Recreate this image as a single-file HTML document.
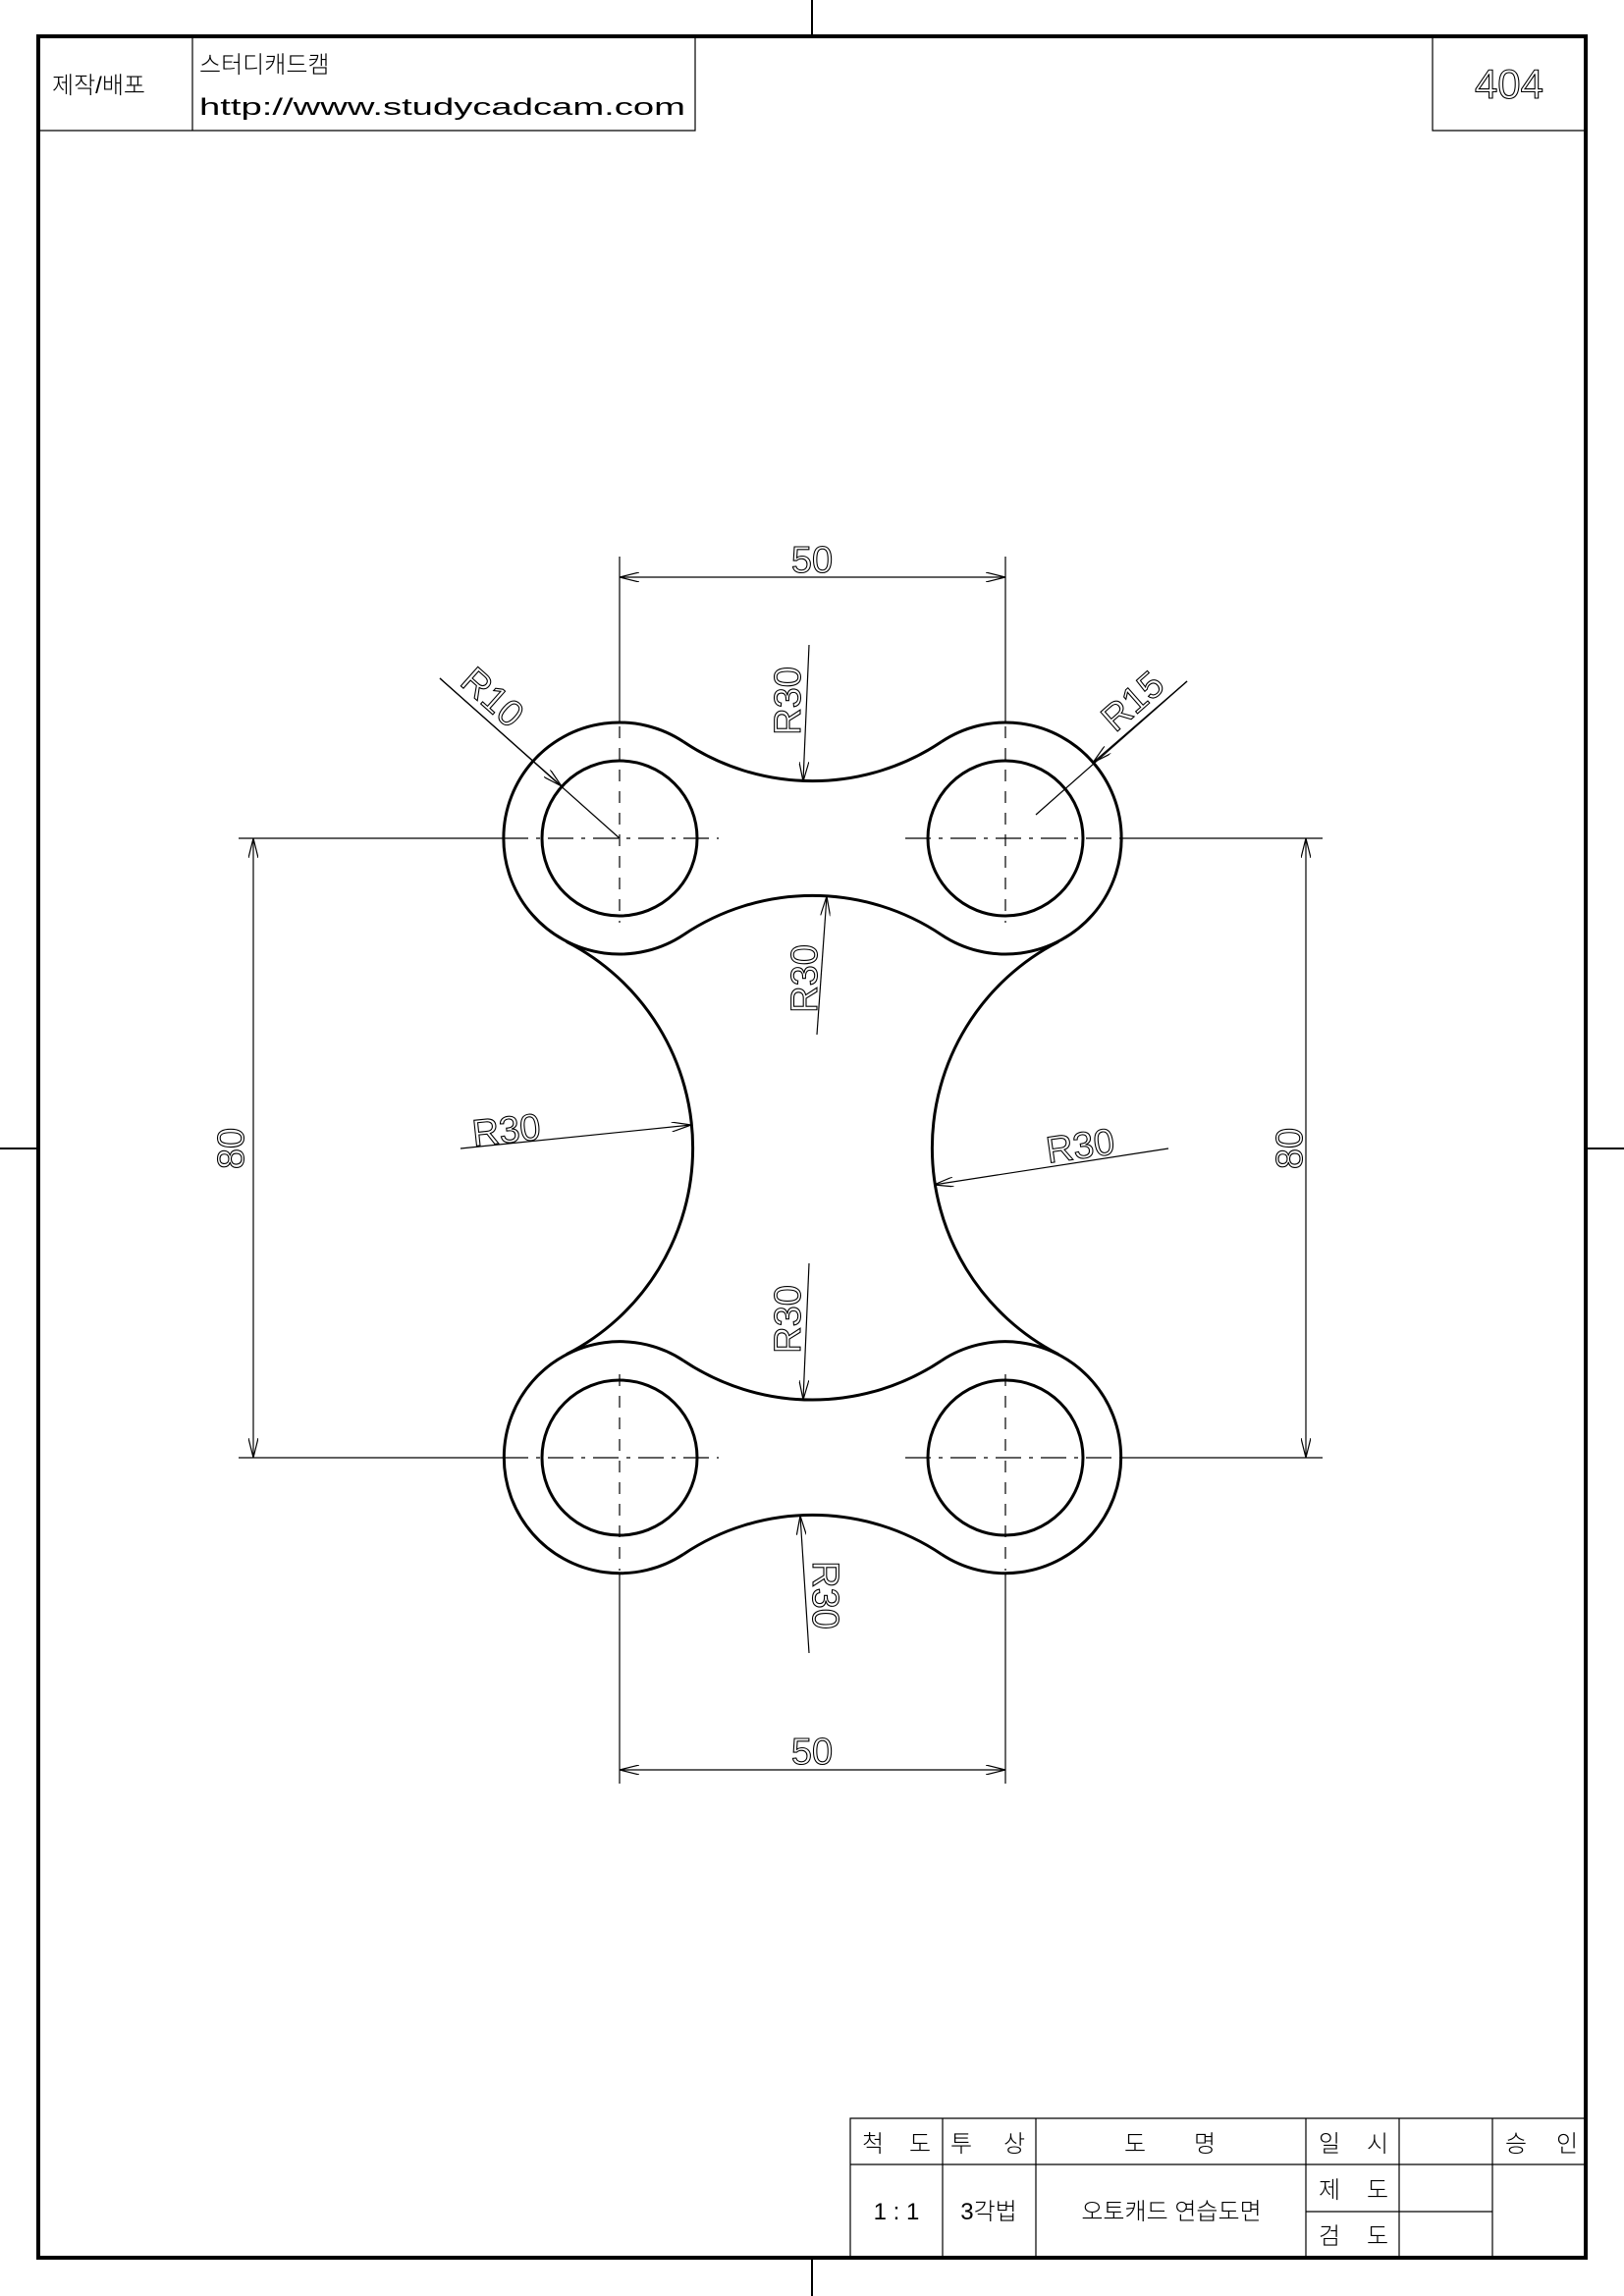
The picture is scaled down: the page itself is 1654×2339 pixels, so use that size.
<!DOCTYPE html>
<html><head><meta charset="utf-8"><style>
html,body{margin:0;padding:0;background:#fff}
svg{display:block}
text{font-family:"Liberation Sans","Noto Sans CJK KR",sans-serif;}
.o{fill:none;stroke:#000;stroke-width:3}
.t{fill:none;stroke:#000;stroke-width:1.2}
.c{fill:none;stroke:#000;stroke-width:1.2;stroke-dasharray:26 8 4 8}
.d{fill:none;stroke:#000;stroke-width:1.2;stroke-dasharray:12 10}
.lbl{font-size:38px;fill:none;stroke:#000;stroke-width:1.1}
.k{font-size:24px;fill:#000;font-weight:300}
</style></head><body>
<svg width="1654" height="2339" viewBox="0 0 1654 2339" xmlns="http://www.w3.org/2000/svg">
<defs>
<marker id="a" viewBox="0 0 20 10" refX="20" refY="5" markerWidth="20" markerHeight="10" markerUnits="userSpaceOnUse" orient="auto-start-reverse">
<path d="M0 0 L20 5 L0 10" fill="none" stroke="#000" stroke-width="1.2"/>
</marker>
</defs>
<rect x="39" y="37" width="1576" height="2263" fill="none" stroke="#000" stroke-width="4"/>
<line x1="827" y1="0" x2="827" y2="37" stroke="#000" stroke-width="2"/>
<line x1="827" y1="2300" x2="827" y2="2339" stroke="#000" stroke-width="2"/>
<line x1="0" y1="1170" x2="39" y2="1170" stroke="#000" stroke-width="2"/>
<line x1="1615" y1="1170" x2="1654" y2="1170" stroke="#000" stroke-width="2"/>
<path class="t" d="M39 133 H708 V37 M196 37 V133"/>
<text class="k" x="53" y="95" font-size="26">제작/배포</text>
<text class="k" x="203" y="74" font-size="28">스터디캐드캠</text>
<text class="k" x="203" y="117" font-size="30" textLength="495" lengthAdjust="spacingAndGlyphs">http://www.studycadcam.com</text>
<path class="t" d="M1459 37 V133 H1615"/>
<text x="1537" y="100" font-size="42" text-anchor="middle" fill="none" stroke="#000" stroke-width="1.1" font-family="Liberation Sans,sans-serif">404</text>

<path class="o" d="M696.3 755.8 A118 118 0 1 0 696.3 952.2"/>
<path class="o" d="M958.7 755.8 A118 118 0 1 1 958.7 952.2"/>
<path class="o" d="M696.3 1386.2 A118 118 0 1 0 696.3 1583.2"/>
<path class="o" d="M958.7 1386.2 A118 118 0 1 1 958.7 1583.2"/>
<path class="o" d="M696.3 755.8 A236 236 0 0 0 958.7 755.8"/>
<path class="o" d="M696.3 952.2 A236 236 0 0 1 958.7 952.2"/>
<path class="o" d="M696.3 1386.2 A236 236 0 0 0 958.7 1386.2"/>
<path class="o" d="M696.3 1583.2 A236 236 0 0 1 958.7 1583.2"/>
<path class="o" d="M576.9 959.3 A236 236 0 0 1 576.9 1379.7"/>
<path class="o" d="M1078.1 959.3 A236 236 0 0 0 1078.1 1379.7"/>
<circle class="o" cx="631" cy="854" r="79"/>
<circle class="o" cx="1024" cy="854" r="79"/>
<circle class="o" cx="631" cy="1485" r="79"/>
<circle class="o" cx="1024" cy="1485" r="79"/>

<path class="c" d="M512 854 H732 M922 854 H1142 M512 1485 H732 M922 1485 H1142"/>
<path class="d" d="M631 740 V940 M1024 740 V940 M631 1400 V1600 M1024 1400 V1600"/>
<path class="t" d="M631 567 V736 M1024 567 V736 M631 1603 V1817 M1024 1603 V1817"/>
<path class="t" d="M243 854 H512 M243 1485 H512 M1142 854 H1347 M1142 1485 H1347"/>

<line class="t" x1="631" y1="588" x2="1024" y2="588" marker-start="url(#a)" marker-end="url(#a)"/>
<text class="lbl" x="827" y="583" text-anchor="middle">50</text>
<line class="t" x1="631" y1="1803" x2="1024" y2="1803" marker-start="url(#a)" marker-end="url(#a)"/>
<text class="lbl" x="827" y="1797" text-anchor="middle">50</text>
<line class="t" x1="258" y1="854" x2="258" y2="1485" marker-start="url(#a)" marker-end="url(#a)"/>
<text class="lbl" transform="translate(248 1170) rotate(-90)" text-anchor="middle">80</text>
<line class="t" x1="1330" y1="854" x2="1330" y2="1485" marker-start="url(#a)" marker-end="url(#a)"/>
<text class="lbl" transform="translate(1326 1170) rotate(-90)" text-anchor="middle">80</text>

<line class="t" x1="448" y1="691" x2="631" y2="854"/>
<line class="t" x1="448" y1="691" x2="572" y2="801" marker-end="url(#a)"/>
<text class="lbl" transform="translate(493 720) rotate(41.7)" text-anchor="middle">R10</text>

<line class="t" x1="1209" y1="694" x2="1055" y2="830"/>
<line class="t" x1="1209" y1="694" x2="1113" y2="777" marker-end="url(#a)"/>
<text class="lbl" transform="translate(1162 724) rotate(-41.4)" text-anchor="middle">R15</text>

<line class="t" x1="824" y1="657" x2="818" y2="796" marker-end="url(#a)"/>
<text class="lbl" transform="translate(815 714) rotate(-90)" text-anchor="middle">R30</text>

<line class="t" x1="832" y1="1054" x2="842" y2="913" marker-end="url(#a)"/>
<text class="lbl" transform="translate(832 997) rotate(-90)" text-anchor="middle">R30</text>

<line class="t" x1="469" y1="1170" x2="704" y2="1146" marker-end="url(#a)"/>
<text class="lbl" transform="translate(517 1164) rotate(-6)" text-anchor="middle">R30</text>

<line class="t" x1="1190" y1="1170" x2="951" y2="1207" marker-end="url(#a)"/>
<text class="lbl" transform="translate(1102 1180) rotate(-8)" text-anchor="middle">R30</text>

<line class="t" x1="824" y1="1287" x2="818" y2="1426" marker-end="url(#a)"/>
<text class="lbl" transform="translate(815 1344) rotate(-90)" text-anchor="middle">R30</text>

<line class="t" x1="824" y1="1684" x2="815" y2="1544" marker-end="url(#a)"/>
<text class="lbl" transform="translate(828 1625) rotate(90)" text-anchor="middle">R30</text>

<path class="t" d="M866 2300 V2158 H1615 M866 2205 H1615 M960 2158 V2300 M1055 2158 V2300 M1330 2158 V2300 M1425 2158 V2300 M1520 2158 V2300 M1330 2253 H1520"/>
<g class="k">
<text x="878" y="2192">척</text><text x="926" y="2192">도</text>
<text x="968" y="2192">투</text><text x="1022" y="2192">상</text>
<text x="1145" y="2192">도</text><text x="1216" y="2192">명</text>
<text x="1343" y="2192">일</text><text x="1392" y="2192">시</text>
<text x="1533" y="2192">승</text><text x="1585" y="2192">인</text>
<text x="913" y="2261" text-anchor="middle">1 : 1</text>
<text x="1007" y="2261" text-anchor="middle">3각법</text>
<text x="1193" y="2261" text-anchor="middle">오토캐드 연습도면</text>
<text x="1343" y="2239">제</text><text x="1392" y="2239">도</text>
<text x="1343" y="2286">검</text><text x="1392" y="2286">도</text>
</g>
</svg>
</body></html>
